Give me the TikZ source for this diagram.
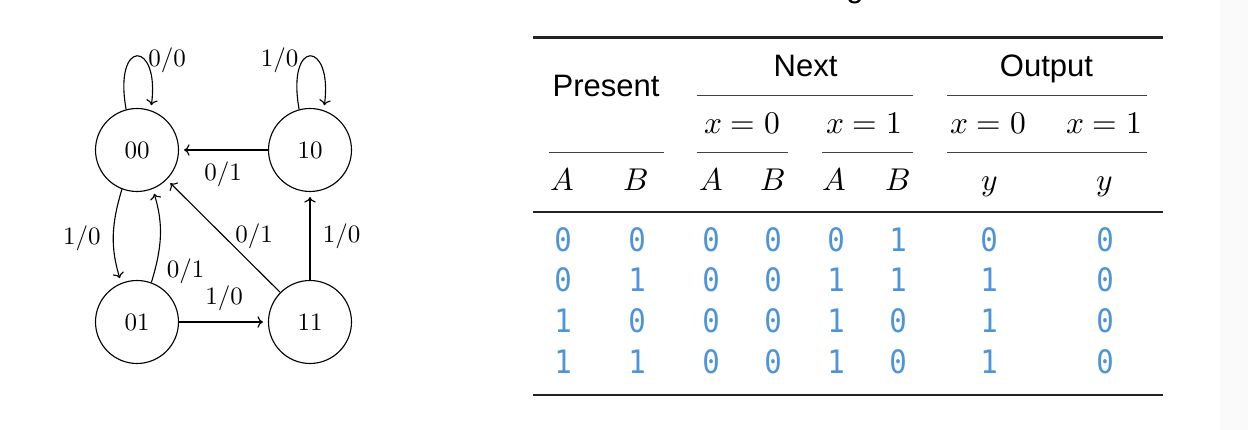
\documentclass[tikz,border=0pt]{standalone}
\usepackage{unicode-math}
\setsansfont{Liberation Sans}
\setmonofont{DejaVu Sans Mono}[FakeStretch=0.9]
\usetikzlibrary{arrows.meta}
\definecolor{digitblue}{RGB}{78,148,216}
\definecolor{rulecol}{RGB}{34,34,34}
\begin{document}
\begin{tikzpicture}[x=0.4pt,y=-0.4pt,
  state/.style={circle,draw,line width=0.45pt,minimum size=33.2pt,inner sep=0pt,font=\fontsize{10}{12}\selectfont},
  trans/.style={line width=0.45pt,-{Computer Modern Rightarrow[length=2.2pt,width=4.6pt]},shorten >=2pt},
  elabel/.style={font=\fontsize{10}{12}\selectfont,inner sep=1pt},
  head/.style={anchor=base,font=\sffamily\fontsize{12.4}{14}\selectfont},
  mhead/.style={anchor=base,font=\fontsize{12.6}{15}\selectfont},
  cell/.style={anchor=base,font=\ttfamily\fontsize{12.9}{15}\selectfont,text=digitblue},
  heavyrule/.style={line width=1.1pt,draw=rulecol},
  midrulestyle/.style={line width=0.85pt,draw=rulecol},
  lightrule/.style={line width=0.5pt,draw=rulecol!85}]
\useasboundingbox (0,0) rectangle (1248,430);
\fill[white] (0,0) rectangle (1248,430);
\fill[black!2] (1220,0) rectangle (1248,430);

% ---------- state diagram ----------
\node[state] (s00) at (137,150) {00};
\node[state] (s10) at (310,150) {10};
\node[state] (s01) at (137,322) {01};
\node[state] (s11) at (310,322) {11};

\draw[trans] (s00.105) .. controls +(-13,-72) and +(9.5,-70) .. (s00.71)
  node[elabel,pos=0.5,shift={(30,4)}] {0/0};
\draw[trans] (s10.105) .. controls +(-13,-72) and +(9.5,-70) .. (s10.71)
  node[elabel,pos=0.5,shift={(-30.5,4)}] {1/0};
\draw[trans] (s10) -- (s00) node[elabel,midway,shift={(-0.5,24)}] {0/1};
\draw[trans] (s00.249) .. controls +(-10.8,35.5) and +(-10.8,-35.5) .. (s01.112)
  node[elabel,pos=0.5,shift={(-31.7,2)}] {1/0};
\draw[trans] (s01.70) .. controls +(10.8,-35.5) and +(10.8,35.5) .. (s00.292)
  node[elabel,pos=0.5,shift={(25.5,36)}] {0/1};
\draw[trans] (s01) -- (s11) node[elabel,midway,shift={(0.5,-24)}] {1/0};
\draw[trans] (s11) -- (s00) node[elabel,midway,shift={(30.5,0)}] {0/1};
\draw[trans] (s11) -- (s10) node[elabel,midway,shift={(31.5,0)}] {1/0};

% ---------- table ----------
\node[head] (gcut) at (855,-2) {g};
\draw[heavyrule] (533,37.5) -- (1163,37.5);
\draw[lightrule] (697,95.7) -- (913,95.7);
\draw[lightrule] (947,95.7) -- (1147,95.7);
\draw[lightrule] (549,152.7) -- (664,152.7);
\draw[lightrule] (697,152.7) -- (788,152.7);
\draw[lightrule] (822,152.7) -- (913,152.7);
\draw[lightrule] (947,152.7) -- (1147,152.7);
\draw[midrulestyle] (533,211.7) -- (1163,211.7);
\draw[heavyrule] (533,395) -- (1163,395);

\node[head] (hpresent) at (606,97) {Present};
\node[head] (hnext) at (805.5,77) {Next};
\node[head] (houtput) at (1046.5,77) {Output};

\node[mhead] (hx1) at (742,134) {$x=0$};
\node[mhead] (hx2) at (864,134) {$x=1$};
\node[mhead] (hx3) at (988,134) {$x=0$};
\node[mhead] (hx4) at (1104,134) {$x=1$};

\node[mhead] (v1) at (562,191) {$A$};
\node[mhead] (v2) at (636,191) {$B$};
\node[mhead] (v3) at (711,191) {$A$};
\node[mhead] (v4) at (773,191) {$B$};
\node[mhead] (v5) at (834,191) {$A$};
\node[mhead] (v6) at (898,191) {$B$};
\node[mhead] (v7) at (989.5,191) {$y$};
\node[mhead] (v8) at (1105,191) {$y$};

\def\colx{{563,637,711,773,836,898,989,1105}}
\def\rowy{{252,292,333,374}}
\foreach \vals [count=\r] in {{0,0,0,0,0,1,0,0},{0,1,0,0,1,1,1,0},{1,0,0,0,1,0,1,0},{1,1,0,0,1,0,1,0}} {
  \foreach \v [count=\c] in \vals {
    \pgfmathsetmacro\xx{\colx[\c-1]}
    \pgfmathsetmacro\yy{\rowy[\r-1]}
    \node[cell] (d\r\c) at (\xx,\yy) {\v};
  }
}
\end{tikzpicture}
\end{document}
